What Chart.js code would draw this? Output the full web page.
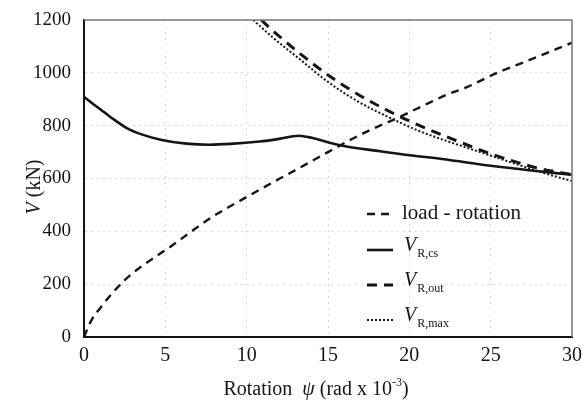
<!DOCTYPE html>
<html>
<head>
<meta charset="utf-8">
<script src="https://cdn.jsdelivr.net/npm/chart.js@4.4.1/dist/chart.umd.min.js"></script>
<style>
  html, body { margin: 0; padding: 0; background: #fff; }
  #wrap { width: 582px; height: 401px; }
</style>
</head>
<body>
<div id="wrap"><canvas id="c" width="582" height="401"></canvas></div>
<script>
// rotation psi (rad x 10^-3) and shear V (kN)
const rotLoad = [0, 0.4, 1, 1.8, 2.5, 3.4, 4.3, 5.3, 6.5, 7.9, 10, 11.9, 13.3, 15, 17, 19.4, 21, 22.3, 23.5, 25.4, 27.4, 30];
const vLoad   = [0, 57, 110, 170, 215, 261, 300, 341, 395, 455, 530, 595, 642, 700, 766, 833, 880, 917, 945, 1000, 1049, 1114];

const rotCs = [0, 0.5, 1, 1.6, 2.6, 3.5, 4.7, 6.3, 7.7, 9, 10.8, 12, 13.2, 14, 15, 15.9, 18.2, 20, 22, 25, 27.5, 30];
const vCs   = [909, 885, 862, 834, 792, 768, 747, 732, 728, 731, 740, 750, 762, 754, 737, 724, 703, 688, 674, 648, 630, 614];

const rotOut = [10.9, 11.6, 13.3, 15, 16.8, 18.8, 20.5, 22.7, 24.8, 26.8, 28, 30];
const vOut   = [1200, 1160, 1072, 992, 920, 853, 804, 748, 698, 658, 638, 615];

const rotMax = [10.4, 11.6, 13.3, 14.9, 16.8, 18.8, 20.6, 22.4, 24.2, 26.2, 28.2, 30];
const vMax   = [1200, 1134, 1050, 970, 893, 830, 780, 740, 703, 662, 622, 590];

const xTicks = [0, 5, 10, 15, 20, 25, 30];
const yTicks = [0, 200, 400, 600, 800, 1000, 1200];

// "main|subscript"
const seriesLabels = ['load - rotation', 'V|R,cs', 'V|R,out', 'V|R,max'];

const serif = '"Liberation Serif", "DejaVu Serif", serif';
const ink = '#151515';

function pts(xs, ys) { return xs.map((x, i) => ({ x: x, y: ys[i] })); }

const styles = [
    { dash: [8, 6], width: 2.4 },
    { dash: [], width: 2.6 },
    { dash: [10, 7], width: 3 },
    { dash: [2, 2], width: 2 }
];

const datasets = [pts(rotLoad, vLoad), pts(rotCs, vCs), pts(rotOut, vOut), pts(rotMax, vMax)].map((d, i) => ({
    label: seriesLabels[i].replace('|', ''),
    data: d,
    borderColor: ink,
    borderWidth: styles[i].width,
    borderDash: styles[i].dash,
    pointRadius: 0,
    fill: false,
    tension: 0.4,
    cubicInterpolationMode: 'monotone'
}));

const annotPlugin = {
    id: 'annot',
    afterDraw(chart) {
        const ctx = chart.ctx;
        const a = chart.chartArea;
        ctx.save();

        // top and right frame
        ctx.strokeStyle = '#7a7a7a';
        ctx.lineWidth = 1.5;
        ctx.setLineDash([]);
        ctx.beginPath();
        ctx.moveTo(a.left, a.top);
        ctx.lineTo(a.right, a.top);
        ctx.lineTo(a.right, a.bottom);
        ctx.stroke();

        // legend
        const lx0 = 367, lx1 = 393, tx = 402;
        const rows = [213, 249, 284, 319];
        ctx.fillStyle = ink;
        ctx.textBaseline = 'middle';
        ctx.textAlign = 'left';
        seriesLabels.forEach((lab, i) => {
            const y = rows[i];
            ctx.strokeStyle = ink;
            ctx.lineWidth = styles[i].width;
            ctx.setLineDash(styles[i].dash);
            ctx.beginPath();
            ctx.moveTo(lx0, y + 1);
            ctx.lineTo(lx1, y + 1);
            ctx.stroke();
            const parts = lab.split('|');
            if (parts.length === 1) {
                ctx.font = '21px ' + serif;
                ctx.fillText(parts[0], tx, y);
            } else {
                ctx.font = 'italic 20px ' + serif;
                ctx.fillText(parts[0], tx + 2, y - 3);
                const w = ctx.measureText(parts[0]).width;
                ctx.font = '12px ' + serif;
                ctx.fillText(parts[1], tx + 2 + w + 1, y + 5);
            }
        });
        ctx.setLineDash([]);

        // y axis title
        ctx.save();
        ctx.translate(35, 187);
        ctx.rotate(-Math.PI / 2);
        ctx.textAlign = 'left';
        ctx.font = 'italic 20px ' + serif;
        const vW = ctx.measureText('V').width;
        ctx.font = '20px ' + serif;
        const rest = ' (kN)';
        const rW = ctx.measureText(rest).width;
        const start = -(vW + rW) / 2;
        ctx.font = 'italic 20px ' + serif;
        ctx.fillText('V', start, 0);
        ctx.font = '20px ' + serif;
        ctx.fillText(rest, start + vW, 0);
        ctx.restore();

        // x axis title: Rotation ψ (rad x 10^-3)
        const segs = [
            { t: 'Rotation  ', f: '20px ' + serif, dy: 0 },
            { t: 'ψ', f: 'italic 20px ' + serif, dy: 0 },
            { t: ' (rad x 10', f: '20px ' + serif, dy: 0 },
            { t: '-3', f: '12px ' + serif, dy: -7 },
            { t: ')', f: '20px ' + serif, dy: 0 }
        ];
        let total = 0;
        segs.forEach(s => { ctx.font = s.f; s.w = ctx.measureText(s.t).width; total += s.w; });
        let x = 316 - total / 2;
        const by = 390;
        segs.forEach(s => {
            ctx.font = s.f;
            ctx.fillText(s.t, x, by + s.dy);
            x += s.w;
        });

        ctx.restore();
    }
};

new Chart(document.getElementById('c'), {
    type: 'line',
    data: { datasets: datasets },
    options: {
        responsive: false,
        animation: false,
        layout: { padding: { left: 0, right: 10, top: 20, bottom: 0 } },
        plugins: { legend: { display: false }, tooltip: { enabled: false } },
        scales: {
            x: {
                type: 'linear',
                min: 0, max: 30,
                afterBuildTicks: s => { s.ticks = xTicks.map(v => ({ value: v })); },
                afterFit: s => { s.height = 64; s.paddingLeft = 0; s.paddingRight = 0; },
                ticks: { color: ink, font: { family: serif, size: 20 }, padding: 7, maxRotation: 0, callback: v => String(v) },
                grid: { color: 'rgba(0,0,0,0.16)', drawTicks: false },
                border: { color: ink, width: 2, dash: [2, 4] }
            },
            y: {
                min: 0, max: 1200,
                afterBuildTicks: s => { s.ticks = yTicks.map(v => ({ value: v })); },
                afterFit: s => { s.width = 84; s.paddingTop = 0; s.paddingBottom = 0; },
                ticks: { color: ink, font: { family: serif, size: 19 }, padding: 13, callback: v => String(v) },
                grid: { color: 'rgba(0,0,0,0.16)', drawTicks: false },
                border: { color: ink, width: 2, dash: [2, 4] }
            }
        }
    },
    plugins: [annotPlugin]
});
</script>
</body>
</html>
